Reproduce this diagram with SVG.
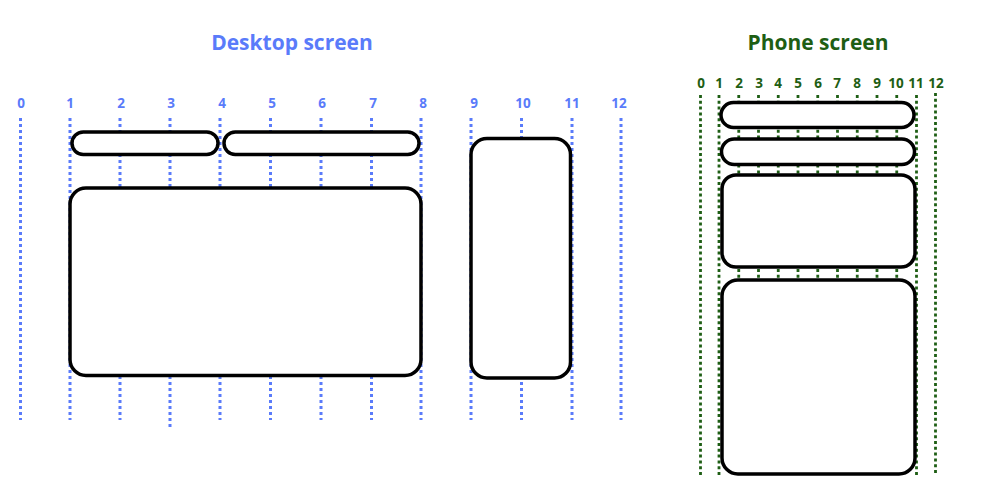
<svg xmlns="http://www.w3.org/2000/svg" width="1000" height="500" viewBox="0 0 1000 500">
  <style>
    .title { font-family: "Open Sans", "Noto Sans", sans-serif; font-weight: bold; font-size: 21px; text-anchor: middle; }
    .num { font-family: "Open Sans", "Noto Sans", sans-serif; font-weight: bold; font-size: 13.5px; text-anchor: middle; }
    .blue { fill: #5a7bfa; }
    .green { fill: #1e5e14; }
    .dline { stroke: #5a7bfa; stroke-width: 3; stroke-dasharray: 3 3; fill: none; }
    .pline { stroke: #1e5e14; stroke-width: 2.8; stroke-dasharray: 3 2.8; fill: none; }
    .box { fill: #ffffff; stroke: #000000; stroke-width: 3.5; }
  </style>
  <rect width="1000" height="500" fill="#ffffff"/>

  <g id="desktop-title"><text class="title blue" x="292" y="50">Desktop screen</text></g>
  <g id="phone-title"><text class="title green" x="818" y="50">Phone screen</text></g>

  <g id="desktop-grid">
    <g class="num blue">
      <text x="21" y="108">0</text>
      <text x="70" y="108">1</text>
      <text x="121" y="108">2</text>
      <text x="171" y="108">3</text>
      <text x="222" y="108">4</text>
      <text x="272" y="108">5</text>
      <text x="322" y="108">6</text>
      <text x="373" y="108">7</text>
      <text x="423" y="108">8</text>
      <text x="474" y="108">9</text>
      <text x="523" y="108">10</text>
      <text x="572" y="108">11</text>
      <text x="619" y="108">12</text>
    </g>
    <g class="dline">
      <line x1="20.5" y1="118" x2="20.5" y2="420"/>
      <line x1="70" y1="118" x2="70" y2="420"/>
      <line x1="120" y1="118" x2="120" y2="420"/>
      <line x1="170" y1="118" x2="170" y2="427"/>
      <line x1="220" y1="118" x2="220" y2="420"/>
      <line x1="270.5" y1="118" x2="270.5" y2="420"/>
      <line x1="321" y1="118" x2="321" y2="420"/>
      <line x1="371.5" y1="118" x2="371.5" y2="420"/>
      <line x1="421" y1="118" x2="421" y2="420"/>
      <line x1="471" y1="118" x2="471" y2="420"/>
      <line x1="521.5" y1="118" x2="521.5" y2="420"/>
      <line x1="572" y1="118" x2="572" y2="420"/>
      <line x1="621" y1="118" x2="621" y2="420"/>
    </g>
  </g>

  <g id="phone-grid">
    <g class="num green">
      <text x="701" y="88">0</text>
      <text x="719" y="88">1</text>
      <text x="739" y="88">2</text>
      <text x="759" y="88">3</text>
      <text x="778" y="88">4</text>
      <text x="798" y="88">5</text>
      <text x="818" y="88">6</text>
      <text x="837" y="88">7</text>
      <text x="857" y="88">8</text>
      <text x="877" y="88">9</text>
      <text x="896" y="88">10</text>
      <text x="916" y="88">11</text>
      <text x="936" y="88">12</text>
    </g>
    <g class="pline">
      <line x1="700.5" y1="95" x2="700.5" y2="475"/>
      <line x1="719" y1="95" x2="719" y2="475"/>
      <line x1="738.75" y1="95" x2="738.75" y2="475"/>
      <line x1="758.5" y1="95" x2="758.5" y2="475"/>
      <line x1="778.25" y1="95" x2="778.25" y2="475"/>
      <line x1="798" y1="95" x2="798" y2="475"/>
      <line x1="817.75" y1="95" x2="817.75" y2="475"/>
      <line x1="837.5" y1="95" x2="837.5" y2="475"/>
      <line x1="857.25" y1="95" x2="857.25" y2="475"/>
      <line x1="877" y1="95" x2="877" y2="475"/>
      <line x1="896.75" y1="95" x2="896.75" y2="475"/>
      <line x1="916.5" y1="95" x2="916.5" y2="475"/>
      <line x1="935.5" y1="93" x2="935.5" y2="473"/>
    </g>
  </g>

  <g id="desktop-header-left"><rect class="box" x="72" y="132" width="146" height="22.5" rx="11.25"/></g>
  <g id="desktop-header-right"><rect class="box" x="224" y="132" width="195" height="22.5" rx="11.25"/></g>
  <g id="desktop-main"><rect class="box" x="70" y="188" width="351" height="187.5" rx="16"/></g>
  <g id="desktop-side"><rect class="box" x="471" y="138.5" width="99.5" height="239.5" rx="16"/></g>

  <g id="phone-header-1"><rect class="box" x="721" y="102.5" width="193" height="25" rx="12.5"/></g>
  <g id="phone-header-2"><rect class="box" x="721.5" y="139" width="193" height="25.5" rx="12.75"/></g>
  <g id="phone-box-3"><rect class="box" x="722" y="175" width="193" height="92" rx="14"/></g>
  <g id="phone-box-4"><rect class="box" x="722" y="280" width="193" height="194" rx="16"/></g>
</svg>
